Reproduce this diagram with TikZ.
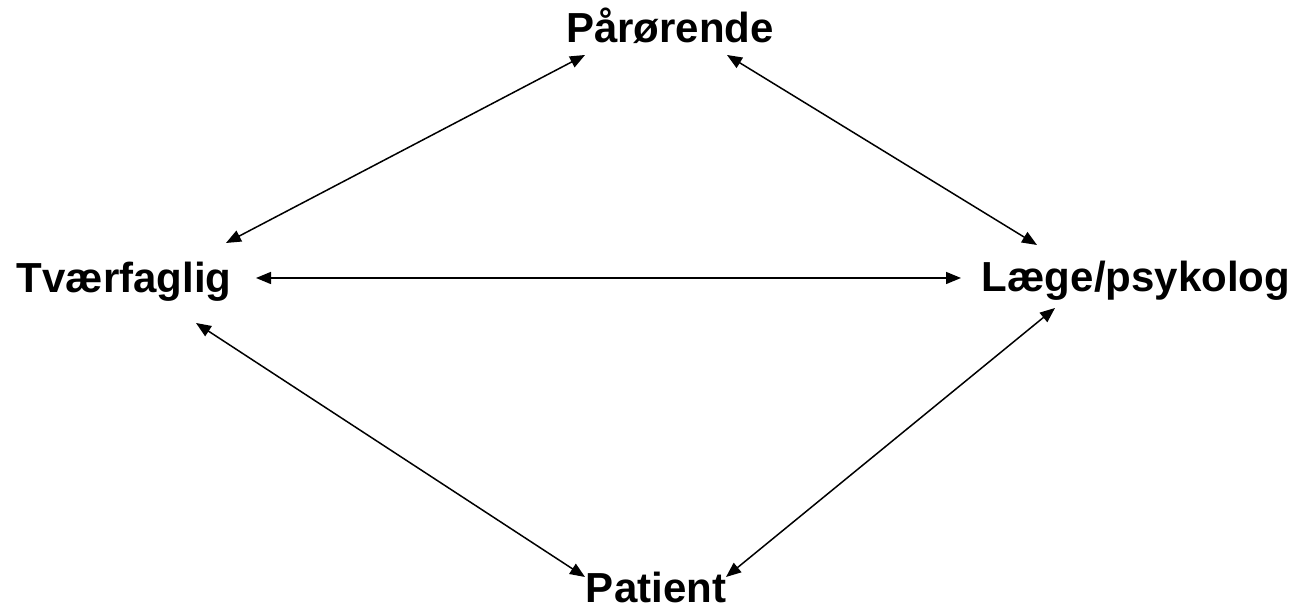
\documentclass[tikz,border=0pt]{standalone}
\usepackage{fontspec}
\setmainfont{Liberation Sans}
\usetikzlibrary{arrows.meta}
\begin{document}
\begin{tikzpicture}[x=1pt,y=1pt,
  lbl/.style={font=\fontsize{42}{50}\selectfont\bfseries, inner sep=0pt, anchor=base},
  biarrow/.style={line width=1.5pt, {Triangle[length=15pt,width=12pt]}-{Triangle[length=15pt,width=12pt]}}]
\useasboundingbox (0,0) rectangle (1299,609);
\node[lbl] (par) at (670,566) {Pårørende};
\node[lbl] (tvf) at (124,316) {Tværfaglig};
\node[lbl] (laege) at (1136,317) {Læge/psykolog};
\node[lbl] (pat) at (656,6) {Patient};
\coordinate (parL) at (585,554);
\coordinate (parR) at (727,554);
\coordinate (tvfT) at (226,366);
\coordinate (tvfR) at (256,331);
\coordinate (tvfB) at (196,286);
\coordinate (laegeT) at (1037,364);
\coordinate (laegeL) at (961,331);
\coordinate (laegeB) at (1055,301);
\coordinate (patL) at (585,32);
\coordinate (patR) at (726,32);
\draw[biarrow] (parL) -- (tvfT);
\draw[biarrow] (parR) -- (laegeT);
\draw[biarrow] (tvfR) -- (laegeL);
\draw[biarrow] (tvfB) -- (patL);
\draw[biarrow] (laegeB) -- (patR);
\end{tikzpicture}
\end{document}
